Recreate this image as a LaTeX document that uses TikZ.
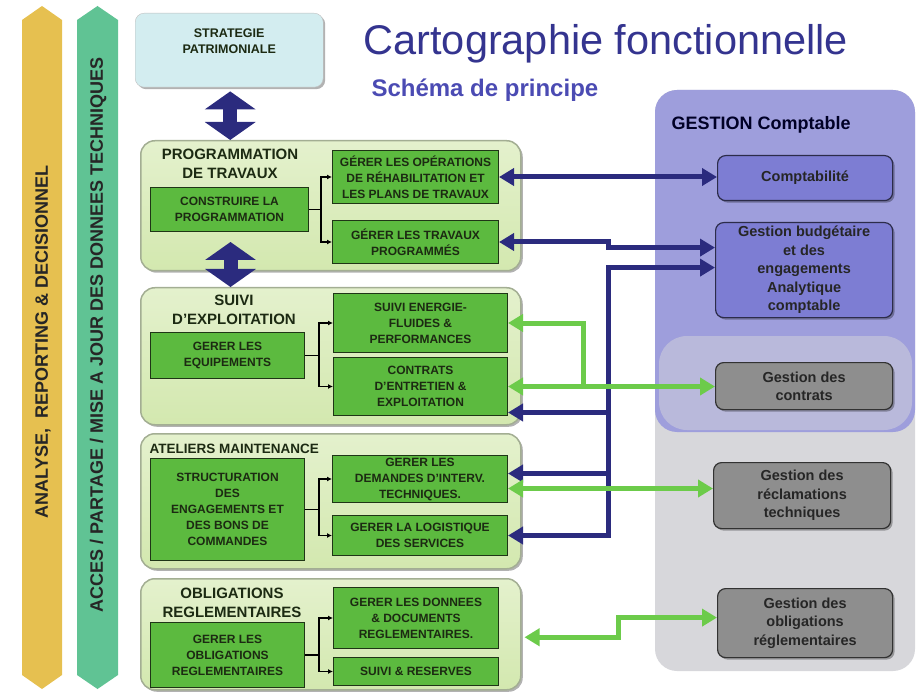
\documentclass[tikz,border=0pt]{standalone}
\usepackage{fontspec}
\setmainfont{Liberation Sans}
\usetikzlibrary{arrows.meta,shadows,calc}

\definecolor{navy}{HTML}{2B2B7E}
\definecolor{lime}{HTML}{6CCB4A}
\definecolor{grptop}{HTML}{E4F1CD}
\definecolor{grpbottom}{HTML}{D3E8AF}
\definecolor{grpline}{HTML}{A3AE93}
\definecolor{boxgreen}{HTML}{5CBA3F}
\definecolor{boxline}{HTML}{1F3516}
\definecolor{boxtext}{HTML}{1C2A12}
\definecolor{panelpurple}{HTML}{9E9EDC}
\definecolor{panelgrey}{HTML}{D7D7DB}
\definecolor{blob}{HTML}{B9B9DB}
\definecolor{rpurple}{HTML}{7D7DD3}
\definecolor{rgrey}{HTML}{8E8E8E}
\definecolor{titleblue}{HTML}{34348F}
\definecolor{subblue}{HTML}{4B4BB3}
\definecolor{bargold}{HTML}{E6C050}
\definecolor{barmint}{HTML}{60C394}
\definecolor{stratfill}{HTML}{D3EDF0}

\tikzset{
  shade/.style={drop shadow={shadow xshift=2pt,shadow yshift=-2pt,opacity=.3,fill=black}},
  grp/.style={draw=grpline,line width=1.5pt,top color=grptop,bottom color=grpbottom,
    rounded corners=14pt,shade,anchor=north west,inner sep=0pt},
  grptitle/.style={align=center,text=boxtext,font=\bfseries\fontsize{15}{18.5}\selectfont},
  actbox/.style={draw=boxline,line width=1pt,fill=boxgreen,anchor=north west,align=center,
    inner sep=1pt,text=boxtext,font=\bfseries\fontsize{12}{16}\selectfont},
  rbox/.style={draw=#1!35!black,line width=1.2pt,fill=#1,rounded corners=8pt,anchor=north west,
    align=center,inner sep=1pt,text=black!85,shade,font=\bfseries\fontsize{14.5}{18.5}\selectfont},
  bartext/.style={rotate=90,text=black!85,font=\bfseries\fontsize{18}{21}\selectfont},
  blockarrow/.style={draw=navy,line width=14pt,
    {Triangle[length=18pt,width=50pt]}-{Triangle[length=18pt,width=50pt]}},
  nv/.style={draw=navy,line width=5pt,>={Triangle[length=15pt,width=17pt]}},
  gr/.style={draw=lime,line width=5pt,>={Triangle[length=15pt,width=17pt]}},
  br/.style={draw=black,line width=1.3pt,->,>={Latex[length=5pt,width=5pt]}},
}

\begin{document}
\begin{tikzpicture}[x=1pt,y=-1pt]
\useasboundingbox (0,0) rectangle (920,692);

% side bands
\fill[bargold] (22,20) -- (42,6) -- (62,20) -- (62,675) -- (42,689) -- (22,675) -- cycle;
\fill[barmint] (77,20) -- (97.5,6) -- (118,20) -- (118,675) -- (97.5,689) -- (77,675) -- cycle;
\node[bartext] (band1) at (43,342) {ANALYSE,~~REPORTING \& DECISIONNEL};
\node[bartext] (band2) at (98,335) {ACCES / PARTAGE / MISE A JOUR DES DONNEES TECHNIQUES};

% headline
\node[anchor=base west,text=titleblue,font=\fontsize{41.5}{46}\selectfont] (title) at (360,55)
  {Cartographie fonctionnelle};
\node[anchor=base west,text=subblue,font=\bfseries\fontsize{24}{28}\selectfont] (subtitle) at (368,97)
  {Schéma de principe};

% strategy box
\node[draw=black!25,fill=stratfill,rounded corners=9pt,shade,anchor=north west,
  minimum width=188pt,minimum height=74pt] (strat) at (135,13) {};
\node[align=center,text=boxtext,font=\bfseries\fontsize{12.5}{16}\selectfont] (strattxt)
  at ($(strat.north)+(0,28)$) {STRATEGIE\\PATRIMONIALE};

% ---- right-hand panel
\fill[panelgrey,rounded corners=22pt] (655,90) rectangle (915,671);
\fill[panelpurple,rounded corners=22pt] (655,90) rectangle (915,432);
\fill[blob,rounded corners=28pt] (659,336) rectangle (912,430);
\node[anchor=west,text=black!85!blue,font=\bfseries\fontsize{18}{22}\selectfont] (gc) at (668,125)
  {GESTION Comptable};

% ---- group 1
\node[grp,minimum width=380pt,minimum height=130pt] (g1) at (140,140) {};
\node[grptitle] (g1t) at (230,164) {PROGRAMMATION\\DE TRAVAUX};
\node[actbox,minimum width=158pt,minimum height=44pt] (b1a) at (150,187) {CONSTRUIRE LA\\PROGRAMMATION};
\node[actbox,minimum width=166pt,minimum height=53pt] (b1b) at (332,150)
  {GÉRER LES OPÉRATIONS\\DE RÉHABILITATION ET\\LES PLANS DE TRAVAUX};
\node[actbox,minimum width=166pt,minimum height=43pt] (b1c) at (332,220) {GÉRER LES TRAVAUX\\PROGRAMMÉS};

% ---- group 2
\node[grp,minimum width=380pt,minimum height=137pt] (g2) at (140,287) {};
\node[grptitle] (g2t) at (234,310) {SUIVI\\D'EXPLOITATION};
\node[actbox,minimum width=154pt,minimum height=46pt] (b2a) at (150,332) {GERER LES\\EQUIPEMENTS};
\node[actbox,minimum width=174pt,minimum height=59pt] (b2b) at (333,293)
  {SUIVI ENERGIE-\\FLUIDES \&\\PERFORMANCES};
\node[actbox,minimum width=174pt,minimum height=58pt] (b2c) at (333,357)
  {CONTRATS\\D'ENTRETIEN \&\\EXPLOITATION};

% ---- group 3
\node[grp,minimum width=380pt,minimum height=135pt] (g3) at (140,433) {};
\node[anchor=west,text=boxtext,font=\bfseries\fontsize{13.5}{16}\selectfont] (g3t) at (146,449)
  {ATELIERS MAINTENANCE};
\node[actbox,minimum width=154pt,minimum height=102pt] (b3a) at (150,458)
  {STRUCTURATION\\DES\\ENGAGEMENTS ET\\DES BONS DE\\COMMANDES};
\node[actbox,minimum width=175pt,minimum height=47pt] (b3b) at (332,455)
  {GERER LES\\DEMANDES D'INTERV.\\TECHNIQUES.};
\node[actbox,minimum width=175pt,minimum height=40pt] (b3c) at (332,515)
  {GERER LA LOGISTIQUE\\DES SERVICES};

% ---- group 4
\node[grp,minimum width=380pt,minimum height=111pt] (g4) at (140,578) {};
\node[grptitle] (g4t) at (232,603) {OBLIGATIONS\\REGLEMENTAIRES};
\node[actbox,minimum width=154pt,minimum height=65pt] (b4a) at (150,622)
  {GERER LES\\OBLIGATIONS\\REGLEMENTAIRES};
\node[actbox,minimum width=165pt,minimum height=61pt] (b4b) at (333,587)
  {GERER LES DONNEES\\\& DOCUMENTS\\REGLEMENTAIRES.};
\node[actbox,minimum width=165pt,minimum height=28pt] (b4c) at (333,657) {SUIVI \& RESERVES};

% ---- block arrows between strategy and programming levels
\coordinate (sb) at ($(strat.south)+(1,4)$);
\draw[blockarrow] (sb) -- (sb |- g1.north);
\draw[blockarrow] ($(b1a.south)+(1,10)$) -- ($(b1a.south |- g2.north)+(1,0)$);

% ---- internal branches
\draw[br] (b1a.east) -- ++(12,0) |- (b1b.west);
\draw[br] (b1a.east) -- ++(12,0) |- (b1c.west);
\draw[br] (b2a.east) -- ++(14,0) |- (b2b.west);
\draw[br] (b2a.east) -- ++(14,0) |- (b2c.west);
\draw[br] (b3a.east) -- ++(14,0) |- (b3b.west);
\draw[br] (b3a.east) -- ++(14,0) |- (b3c.west);
\draw[br] (b4a.east) -- ++(14,0) |- (b4b.west);
\draw[br] (b4a.east) -- ++(14,0) |- (b4c.west);

% ---- right-hand boxes
\node[rbox=rpurple,minimum width=175pt,minimum height=45pt] (r1) at (717,155) {Comptabilité};
\node[rbox=rpurple,minimum width=177pt,minimum height=95pt] (r2) at (715,222)
  {Gestion budgétaire\\et des\\engagements\\Analytique\\comptable};
\node[rbox=rgrey,minimum width=177pt,minimum height=47pt] (r3) at (715,362) {Gestion des\\contrats};
\node[rbox=rgrey,minimum width=177pt,minimum height=66pt] (r4) at (713,462)
  {Gestion des\\réclamations\\techniques};
\node[rbox=rgrey,minimum width=175pt,minimum height=69pt] (r5) at (717,588)
  {Gestion des\\obligations\\réglementaires};

% ---- navy links (accounting)
\coordinate (tx) at (608,0);
\coordinate (r2a) at ($(r2.west)+(0,-22.5)$);
\coordinate (r2b) at ($(r2.west)+(0,-2.5)$);
\coordinate (b2cn) at ($(b2c.east)+(0,26)$);
\coordinate (b3bn) at ($(b3b.east)+(0,-5.5)$);
\draw[nv,<->] (b1b.east) -- (b1b.east -| r1.west);
\draw[nv,<->] (b1c.east) -- (b1c.east -| tx) -- (tx |- r2a) -- (r2a);
\draw[nv,<->] (b3c.east) -- (b3c.east -| tx) -- (tx |- r2b) -- (r2b);
\draw[nv,->] (tx |- b2cn) -- (b2cn);
\draw[nv,->] (tx |- b3bn) -- (b3bn);

% ---- green links (contracts, claims, regulation)
\coordinate (gx) at (583,0);
\coordinate (ox) at (618,0);
\coordinate (b3bg) at ($(b3b.east)+(0,9.5)$);
\coordinate (g4e) at ($(g4.east)+(3,3)$);
\coordinate (r5g) at ($(r5.west)+(0,-5.5)$);
\draw[gr,<->] (b2c.east) -- (b2c.east -| r3.west);
\draw[gr,->] (b2c.east -| gx) -- (gx |- b2b.east) -- (b2b.east);
\draw[gr,<->] (b3bg) -- (b3bg -| r4.west);
\draw[gr,<->] (g4e) -- (g4e -| ox) -- (ox |- r5g) -- (r5g);
\end{tikzpicture}
\end{document}
